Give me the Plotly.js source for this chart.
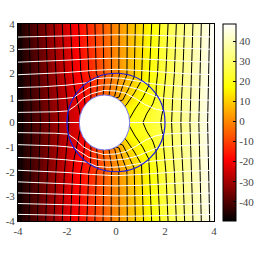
<!DOCTYPE html>
<html><head><meta charset="utf-8">
<script src="https://cdn.plot.ly/plotly-3.0.1.min.js"></script>
<style>html,body{margin:0;padding:0;background:#fff;overflow:hidden}#c{width:280px;height:254px}</style>
</head><body><div id="c"></div>
<script>
const gridX=[-4,-3.5,-3,-2.5,-2,-1.5,-1,-0.5,0,0.5,1,1.5,2,2.5,3,3.5,4];
const gridY=[4,3.5,3,2.5,2,1.5,1,0.5,0,-0.5,-1,-1.5,-2,-2.5,-3,-3.5,-4];
const r4=[-47.3,-41.4,-35.5,-29.6,-23.7,-17.7,-11.7,-5.7,0.4,6.5,12.5,18.5,24.5,30.4,36.3,42.2,48.1];
const r35=[-47.4,-41.5,-35.7,-29.8,-23.9,-17.9,-11.8,-5.7,0.4,6.5,12.6,18.7,24.7,30.6,36.5,42.4,48.2];
const r3=[-47.5,-41.7,-35.9,-30,-24.1,-18.1,-12,-5.8,0.4,6.6,12.8,18.9,24.9,30.8,36.7,42.5,48.3];
const r25=[-47.7,-41.9,-36.1,-30.3,-24.4,-18.4,-12.3,-6,0.4,6.8,13.1,19.2,25.2,31.1,36.9,42.7,48.5];
const r2=[-47.8,-42.1,-36.3,-30.6,-24.8,-18.8,-12.7,-6.3,0.4,7.1,13.5,19.6,25.6,31.4,37.1,42.9,48.6];
const r15=[-47.9,-42.2,-36.6,-30.9,-25.2,-19.5,-13.1,-5.7,1.5,9.3,15.1,20.3,26.1,31.7,37.4,43.1,48.7];
const r1=[-48,-42.4,-36.8,-31.3,-25.8,-20.5,-13.2,-5.6,3,11.7,17.2,21,26.6,32.1,37.6,43.2,48.9];
const r05=[-48.1,-42.5,-37,-31.6,-26.3,-22.6,-18,-6,5,17,19.9,23.2,27.1,32.4,37.8,43.3,48.9];
const r0=[-48.2,-42.6,-37,-31.7,-26.5,-22.8,-16,-5,7,18.7,21.4,24,27.3,32.5,37.8,43.4,49];
const zRows=[r4,r35,r3,r25,r2,r15,r1,r05,r0,r05,r1,r15,r2,r25,r3,r35,r4];

const outerY=[4,3,2,1,0];
const outerContours=[
 [-3.893,-3.871,-3.845,-3.82,-3.81],
 [-3.552,-3.527,-3.496,-3.465,-3.451],
 [-3.211,-3.184,-3.148,-3.107,-3.088],
 [-2.871,-2.842,-2.8,-2.747,-2.718],
 [-2.533,-2.502,-2.453,-2.383,-2.34],
 [2.463,2.432,2.383,2.313,2.27],
 [2.801,2.772,2.73,2.677,2.648],
 [3.141,3.114,3.078,3.037,3.018],
 [3.482,3.457,3.426,3.395,3.381],
 [3.823,3.801,3.775,3.75,3.74]];
const innerContours=[
 {x:[-2.195,-2.163,-2.105,-2.015,-1.96,-1.945,-1.94,-1.93],y:[4,3,2,1,0.513,0.5,0.25,0]},
 {x:[-1.859,-1.828,-1.767,-1.716,-1.65,-1.56,-1.5,-1.46],y:[4,3,2,1.5,1.15,0.8,0.4,0.3]},
 {x:[-1.525,-1.495,-1.435,-1.34,-1.3,-1.25],y:[4,3,2,1.487,1,0.6]},
 {x:[-1.192,-1.166,-1.11,-1.04,-1.04,-1.02],y:[4,3,2,1.71,1.25,0.82]},
 {x:[-0.86,-0.845,-0.805,-0.743,-0.76,-0.79],y:[4,3,2,1.857,1.4,0.98]},
 {x:[-0.53,-0.52,-0.495,-0.446,-0.49,-0.53],y:[4,3,2,1.95,1.5,1.07]},
 {x:[-0.2,-0.197,-0.185,-0.149,-0.21,-0.28,-0.3],y:[4,3,2,1.994,1.5,1.09,1]},
 {x:[0.13,0.127,0.115,0.149,0.05,-0.05,-0.2],y:[4,3,2,1.994,1.5,1.08,1]},
 {x:[0.46,0.45,0.425,0.446,0.28,0.13,-0.1],y:[4,3,2,1.95,1.5,1.04,0.95]},
 {x:[0.79,0.775,0.735,0.743,0.53,0.28,0.1],y:[4,3,2,1.857,1.4,0.92,0.85]},
 {x:[1.122,1.096,1.04,1.041,0.75,0.41,0.3],y:[4,3,2,1.708,1.2,0.7,0.6]},
 {x:[1.455,1.425,1.365,1.338,1.09,0.78,0.52,0.52],y:[4,3,2,1.487,1,0.55,0.1,0]},
 {x:[1.789,1.758,1.697,1.646,1.636,1.5,1.25,1.1],y:[4,3,2,1.5,1.15,0.75,0.35,0]},
 {x:[2.125,2.093,2.035,1.945,1.92,1.86,1.83],y:[4,3,2,1,0.513,0.25,0]}];

const flowX=[-4,-3,-2,-1,0,1,2,3,4];
const flowFar=[
 [3.47,3.496,3.524,3.554,3.563,3.554,3.524,3.496,3.47],
 [2.97,2.998,3.034,3.076,3.09,3.076,3.034,2.998,2.97],
 [2.45,2.48,2.53,2.587,2.61,2.587,2.53,2.48,2.45],
 [1.94,1.973,2.03,2.11,2.16,2.11,2.03,1.973,1.94],
 [-1.94,-1.973,-2.03,-2.11,-2.16,-2.11,-2.03,-1.973,-1.94],
 [-2.41,-2.44,-2.49,-2.55,-2.576,-2.55,-2.49,-2.44,-2.41],
 [-2.86,-2.89,-2.93,-2.97,-2.98,-2.97,-2.93,-2.89,-2.86],
 [-3.29,-3.315,-3.35,-3.38,-3.39,-3.38,-3.35,-3.315,-3.29],
 [-3.73,-3.75,-3.78,-3.8,-3.81,-3.8,-3.78,-3.75,-3.73]];
const flowNear=[
 {x:[-4,-3,-2,-1.5,-1.18,-0.8,-0.3,0.2,0.7,1.18,1.5,2,3,4],y:[1.42,1.451,1.517,1.57,1.615,1.78,1.82,1.8,1.72,1.615,1.57,1.517,1.451,1.42]},
 {x:[-4,-3,-2.5,-2,-1.72,-1.45,-1.1,-0.6,-0.1,0.4,0.9,1.35,1.72,2,2.5,3,4],y:[0.9,0.924,0.947,0.986,1.02,1.2,1.42,1.52,1.53,1.48,1.35,1.17,1.02,0.986,0.947,0.924,0.9]},
 {x:[-4,-3,-2.5,-1.96,-1.65,-1.35,-1,-0.5,0,0.4,0.8,1.2,1.6,1.96,2.5,3,4],y:[0.41,0.422,0.435,0.47,0.68,0.98,1.17,1.3,1.28,1.18,0.97,0.72,0.55,0.47,0.435,0.422,0.41]}];
const axisFlowLeft=[-4,-1.5];
const axisFlowRight=[0.56,4];

const holeX=[0.56,0.525,0.42,0.26,0.045,-0.2,-0.47,-0.74,-0.985,-1.2,-1.36,-1.465,-1.5,-1.465,-1.36,-1.2,-0.985,-0.74,-0.47,-0.2,0.045,0.26,0.42,0.525,0.56];
const holeY=[0,0.29,0.56,0.79,0.97,1.08,1.12,1.08,0.97,0.79,0.56,0.29,0,-0.29,-0.56,-0.79,-0.97,-1.08,-1.12,-1.08,-0.97,-0.79,-0.56,-0.29,0];
const outerRadius=2;

const axisTicks=[-4,-2,0,2,4];
const axisTickText=['-4','-2','0','2','4'];
const yTicks=[-4,-3,-2,-1,0,1,2,3,4];
const yTickText=['-4','-3','-2','-1','0','1','2','3','4'];
const barTicks=[-40,-30,-20,-10,0,10,20,30,40];
const barTickText=['-40','-30','-20','-10','0','10','20','30','40'];

const traces=[{type:'heatmap',x:gridX,y:gridY,z:zRows,zsmooth:'best',zmin:-49.6,zmax:48.6,hoverinfo:'skip',
 colorscale:[[0,'#000000'],[0.31,'#ff0000'],[0.68,'#ffff00'],[1,'#ffffff']],
 colorbar:{x:1.046,xanchor:'left',y:0.5,yanchor:'middle',len:1,lenmode:'fraction',thickness:13,thicknessmode:'pixels',xpad:0,ypad:0,
  outlinewidth:1,outlinecolor:'#000',tickmode:'array',tickvals:barTicks,ticktext:barTickText,ticks:'inside',ticklen:3,tickwidth:1,tickcolor:'#000',
  tickfont:{family:'Liberation Serif',size:11,color:'#444'}}}];
function line(x,y,color,w){traces.push({type:'scatter',mode:'lines',x:x,y:y,line:{color:color,width:w},hoverinfo:'skip',showlegend:false});}
outerContours.forEach(c=>{line(c,outerY,'#000',1);line(c,outerY.map(v=>-v),'#000',1);});
innerContours.forEach(c=>{line(c.x,c.y,'#000',1);line(c.x,c.y.map(v=>-v),'#000',1);});
flowFar.forEach(c=>line(flowX,c,'#fff',1));
flowNear.forEach(c=>{line(c.x,c.y,'#fff',1);line(c.x,c.y.map(v=>-v),'#fff',1);});
line(axisFlowLeft,[0,0],'#fff',1);line(axisFlowRight,[0,0],'#fff',1);
traces.push({type:'scatter',mode:'lines',x:holeX,y:holeY,fill:'toself',fillcolor:'#fff',line:{color:'#7a7aee',width:1},hoverinfo:'skip',showlegend:false});

const layout={width:280,height:254,margin:{l:18,r:66,t:24,b:33,pad:0},paper_bgcolor:'#fff',plot_bgcolor:'#fff',showlegend:false,
 font:{family:'Liberation Serif',size:11,color:'#444'},
 xaxis:{range:[-4,4],tickmode:'array',tickvals:axisTicks,ticktext:axisTickText,ticks:'',showgrid:false,zeroline:false,showline:true,mirror:true,linecolor:'#000',linewidth:1,tickfont:{family:'Liberation Serif',size:11,color:'#444'}},
 yaxis:{range:[-4,4],tickmode:'array',tickvals:yTicks,ticktext:yTickText,ticks:'',showgrid:false,zeroline:false,showline:true,mirror:true,linecolor:'#000',linewidth:1,tickfont:{family:'Liberation Serif',size:11,color:'#444'}},
 shapes:[{type:'circle',xref:'x',yref:'y',x0:-outerRadius,x1:outerRadius,y0:-outerRadius,y1:outerRadius,line:{color:'#1a1ae0',width:1.2},layer:'above'}]};
Plotly.newPlot('c',traces,layout,{displayModeBar:false,staticPlot:true});
</script></body></html>
